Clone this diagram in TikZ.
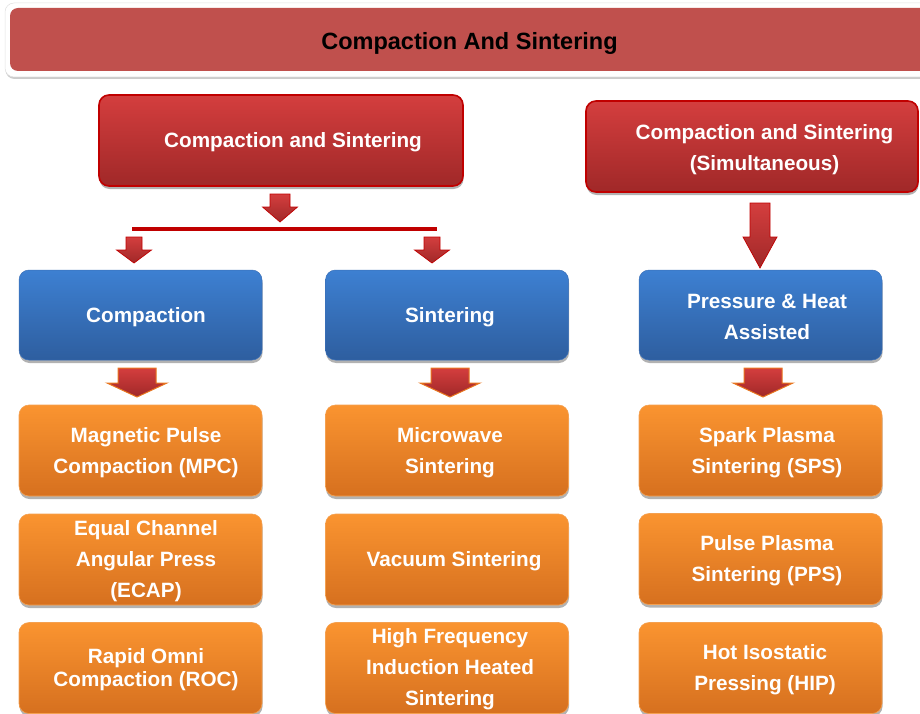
\documentclass[tikz,border=0pt]{standalone}
\usepackage{fontspec}
\setmainfont{Liberation Sans}
\usetikzlibrary{shadows}
\definecolor{titlered}{HTML}{C0504D}
\definecolor{redtop}{HTML}{D43E3E}
\definecolor{redbot}{HTML}{A02828}
\definecolor{redline}{HTML}{C00000}
\definecolor{bluetop}{HTML}{3D80D2}
\definecolor{bluebot}{HTML}{2E5E9F}
\definecolor{bluedraw}{HTML}{3B70B8}
\definecolor{orangetop}{HTML}{FA9430}
\definecolor{orangebot}{HTML}{D6701F}
\definecolor{orangedraw}{HTML}{F4A050}
\definecolor{arrowedge}{HTML}{E8761E}
\newcommand\blockarr[7]{%
  \shade[#7] (#1-#5,#2) -- (#1+#5,#2) -- (#1+#5,#3) -- (#1+#6,#3) -- (#1,#4)
    -- (#1-#6,#3) -- (#1-#5,#3) -- cycle;}
\begin{document}
\begin{tikzpicture}[x=1pt,y=-1pt,
  softshadow/.style={drop shadow={shadow xshift=0.5pt, shadow yshift=-3pt, opacity=0.3, fill=black}},
  redbox/.style={rounded corners=10pt, top color=redtop, bottom color=redbot, draw=redline, line width=1.6pt, minimum height=91pt, inner sep=0pt, softshadow},
  bluebox/.style={rounded corners=10pt, top color=bluetop, bottom color=bluebot, draw=bluedraw, line width=0.5pt, minimum width=243pt, minimum height=90pt, inner sep=0pt, softshadow},
  orangebox/.style={rounded corners=10pt, top color=orangetop, bottom color=orangebot, draw=orangedraw, line width=0.6pt, minimum width=243pt, minimum height=91pt, inner sep=0pt, softshadow},
  txt/.style={font=\bfseries\fontsize{20.7}{31}\selectfont, text=white, align=center, inner sep=0pt, yshift=-2pt},
  redarrow/.style={top color=redtop, bottom color=redbot, draw=redline, line width=0.7pt},
  orangearrow/.style={top color=redtop, bottom color=redbot, draw=arrowedge, line width=1pt}
]
\useasboundingbox (0,0) rectangle (920,714);

% title bar
\node[fill=white, draw=black!12, line width=0.5pt, rounded corners=9pt, minimum width=930pt, minimum height=74pt, inner sep=0pt, drop shadow={shadow xshift=0.5pt, shadow yshift=-2pt, opacity=0.2, fill=black}] (tframe) at (470,40) {};
\node[fill=titlered, rounded corners=8pt, minimum width=920pt, minimum height=63pt, inner sep=0pt] (tbar) at (470,39.5) {};
\node[font=\bfseries\fontsize{23.5}{28}\selectfont, text=black, inner sep=0pt, yshift=-2pt] (ttext) at (469.5,41) {Compaction And Sintering};

% red boxes
\node[redbox, minimum width=364pt] (rb1) at (281,140.5) {};
\node[txt] (rb1t) at (293,140.5) {Compaction and Sintering};
\node[redbox, minimum width=332pt] (rb2) at (752,146.5) {};
\node[txt] (rb2t) at (764.5,147.5) {Compaction and Sintering\\(Simultaneous)};

% connectors top
\blockarr{280}{194}{207}{222}{10}{17.5}{redarrow}
\draw[redline, line width=3.2pt] (132,229) -- (437,229);
\blockarr{134}{237}{250}{263}{8}{17.5}{redarrow}
\blockarr{432}{237}{250}{263}{8}{17.5}{redarrow}
\blockarr{760}{203}{237}{268}{10}{17}{redarrow}

% blue boxes
\node[bluebox] (c1) at (140.5,315) {};
\node[txt] (c1t) at (146,315) {Compaction};
\node[bluebox] (c2) at (447,315) {};
\node[txt] (c2t) at (450,315) {Sintering};
\node[bluebox] (c3) at (760.5,315) {};
\node[txt] (c3t) at (767,314.5) {Pressure \& Heat\\Assisted};

% orange arrows
\blockarr{137}{368}{383}{397}{19}{30}{orangearrow}
\blockarr{450}{368}{383}{397}{19}{30}{orangearrow}
\blockarr{763}{368}{383}{397}{19}{30}{orangearrow}

% orange row 1
\node[orangebox] (m1) at (140.5,450.5) {};
\node[txt] (m1t) at (146,450.5) {Magnetic Pulse\\Compaction (MPC)};
\node[orangebox] (s1) at (447,450.5) {};
\node[txt] (s1t) at (450,450.5) {Microwave\\Sintering};
\node[orangebox] (p1) at (760.5,450.5) {};
\node[txt] (p1t) at (767,450.5) {Spark Plasma\\Sintering (SPS)};

% orange row 2
\node[orangebox] (m2) at (140.5,559.5) {};
\node[txt] (m2t) at (146,559) {Equal Channel\\Angular Press\\(ECAP)};
\node[orangebox] (s2) at (447,559.5) {};
\node[txt] (s2t) at (454,559) {Vacuum Sintering};
\node[orangebox] (p2) at (760.5,559) {};
\node[txt] (p2t) at (767,558.5) {Pulse Plasma\\Sintering (PPS)};

% orange row 3
\node[orangebox] (m3) at (140.5,668) {};
\node[txt, font=\bfseries\fontsize{20.7}{23}\selectfont] (m3t) at (146,667.5) {Rapid Omni\\Compaction (ROC)};
\node[orangebox] (s3) at (447,668) {};
\node[txt] (s3t) at (450,667) {High Frequency\\Induction Heated\\Sintering};
\node[orangebox] (p3) at (760.5,668) {};
\node[txt] (p3t) at (765,667.5) {Hot Isostatic\\Pressing (HIP)};
\end{tikzpicture}
\end{document}
